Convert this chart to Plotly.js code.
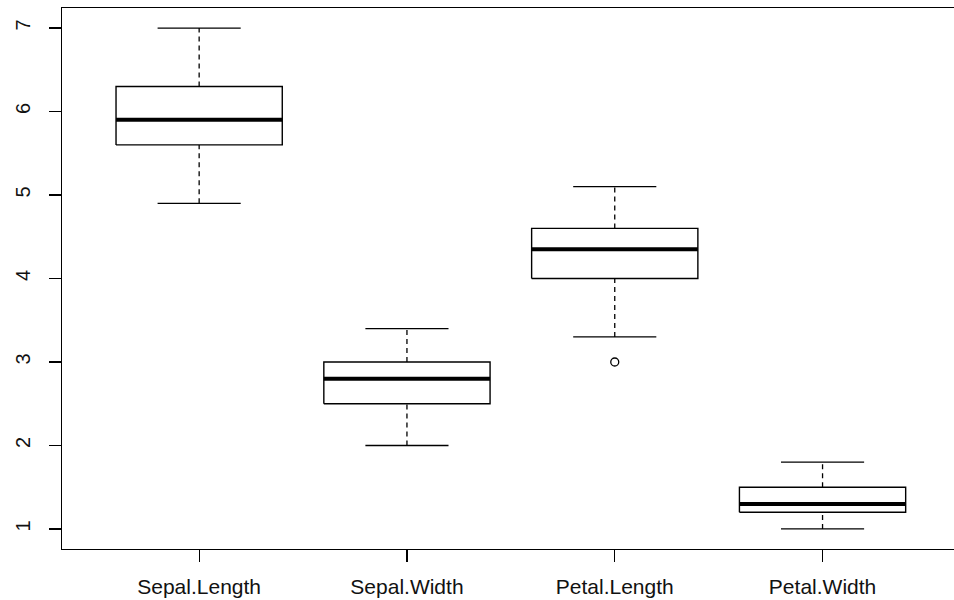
<!DOCTYPE html>
<html>
<head>
<meta charset="utf-8">
<script src="https://cdn.plot.ly/plotly-3.0.1.min.js"></script>
<style>html,body{margin:0;padding:0;background:#fff;}#chart{width:954px;height:600px;}</style>
</head>
<body>
<div id="chart"></div>
<script>
// Data (iris versicolor boxplot stats)
const categories = ["Sepal.Length", "Sepal.Width", "Petal.Length", "Petal.Width"];
const lowerWhisker = [4.9, 2.0, 3.3, 1.0];
const q1Values = [5.6, 2.5, 4.0, 1.2];
const medianValues = [5.9, 2.8, 4.35, 1.3];
const q3Values = [6.3, 3.0, 4.6, 1.5];
const upperWhisker = [7.0, 3.4, 5.1, 1.8];
const outlierCategory = [3];
const outlierValues = [3.0];
const yTicks = [1, 2, 3, 4, 5, 6, 7];

const BOX_HALF = 0.4, CAP_HALF = 0.2;
const boxX = [], boxY = [], medX = [], medY = [], whX = [], whY = [], capX = [], capY = [];
categories.forEach((c, k) => {
  const i = k + 1;
  boxX.push(i - BOX_HALF, i + BOX_HALF, i + BOX_HALF, i - BOX_HALF, i - BOX_HALF, null);
  boxY.push(q1Values[k], q1Values[k], q3Values[k], q3Values[k], q1Values[k], null);
  medX.push(i - BOX_HALF, i + BOX_HALF, null);
  medY.push(medianValues[k], medianValues[k], null);
  whX.push(i, i, null, i, i, null);
  whY.push(q3Values[k], upperWhisker[k], null, lowerWhisker[k], q1Values[k], null);
  capX.push(i - CAP_HALF, i + CAP_HALF, null, i - CAP_HALF, i + CAP_HALF, null);
  capY.push(upperWhisker[k], upperWhisker[k], null, lowerWhisker[k], lowerWhisker[k], null);
});

const traces = [
  {x: whX, y: whY, mode: "lines", line: {color: "#000", width: 1.3, dash: "5px,4px"}, hoverinfo: "skip"},
  {x: capX, y: capY, mode: "lines", line: {color: "#000", width: 1.3}, hoverinfo: "skip"},
  {x: boxX, y: boxY, mode: "lines", line: {color: "#000", width: 1.4}, hoverinfo: "skip"},
  {x: medX, y: medY, mode: "lines", line: {color: "#000", width: 4}, hoverinfo: "skip"},
  {x: outlierCategory, y: outlierValues, mode: "markers",
   marker: {symbol: "circle-open", size: 8, color: "#000", line: {width: 1.3}}, hoverinfo: "skip"}
];

const pxPerUnit = 207.8;
const plotW = 954 - 62;
const layout = {
  width: 954, height: 600,
  margin: {l: 62, r: 0, t: 8, b: 51},
  showlegend: false,
  paper_bgcolor: "#fff", plot_bgcolor: "#fff",
  font: {family: "Liberation Sans, Arial, sans-serif", size: 20, color: "#000"},
  xaxis: {
    range: [0.34, 0.34 + plotW / pxPerUnit],
    tickvals: categories.map((c, k) => k + 1),
    ticktext: categories,
    tickfont: {size: 21, color: "#111"},
    ticks: "outside", ticklen: 12, tickwidth: 1.2, tickcolor: "#000",
    showline: true, linecolor: "#000", linewidth: 1.3, mirror: true,
    showgrid: false, zeroline: false, ticklabelstandoff: 6
  },
  yaxis: {
    range: [0.76, 7.24],
    tickvals: yTicks,
    tickfont: {size: 20, color: "#111"},
    ticks: "outside", ticklen: 12, tickwidth: 1.2, tickcolor: "#000",
    tickangle: -90,
    showline: true, linecolor: "#000", linewidth: 1.3, mirror: false,
    showgrid: false, zeroline: false, ticklabelstandoff: 11
  }
};
Plotly.newPlot("chart", traces, layout, {staticPlot: true, displayModeBar: false});
</script>
</body>
</html>
